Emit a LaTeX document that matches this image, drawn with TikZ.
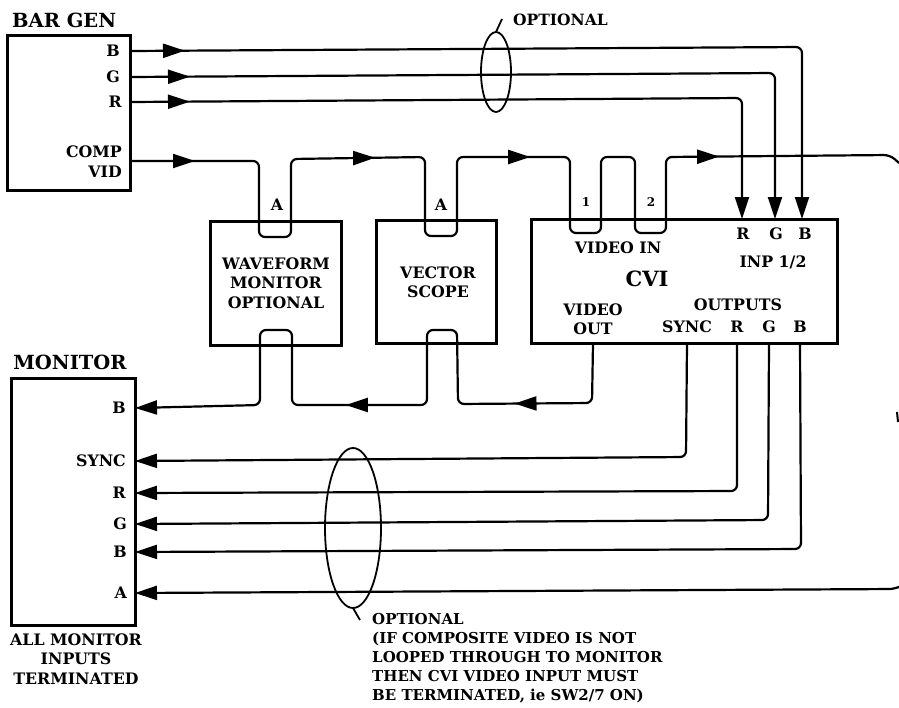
\documentclass[tikz,border=0pt]{standalone}
\usepackage{fontspec}
\setmainfont{DejaVu Serif}
\usetikzlibrary{arrows.meta,decorations.markings,shapes.geometric}
\tikzset{
	bigtip/.tip={Triangle[length=22pt,width=14pt]},
	tipat/.style={postaction={decorate},decoration={markings,mark=at position #1 with {\arrow{bigtip}}}},
}
\newcommand{\lblfont}{\fontsize{15.8}{19.5}\selectfont\bfseries}
\begin{document}
\begin{tikzpicture}[
		x=1pt, y=-1pt,
		unit/.style={rectangle, draw, line width=3pt, outer sep=0pt, inner sep=0pt},
		wire/.style={line width=2.2pt, rounded corners=6pt},
		loop/.style={ellipse, draw, line width=1.8pt, inner sep=0pt, outer sep=0pt},
		lbl/.style={inner sep=0pt, align=center, font=\lblfont},
		head/.style={inner sep=0pt, font=\fontsize{19.5}{22}\selectfont\bfseries},
	]
	\useasboundingbox (0,0) rectangle (899,707);

	% units
	\node[unit, minimum width=123pt, minimum height=155pt] (bargen)  at (68.5,112.5) {};
	\node[unit, minimum width=131pt, minimum height=124pt] (wave)    at (275.5,283)  {};
	\node[unit, minimum width=120pt, minimum height=123pt] (vector)  at (436,281.5)  {};
	\node[unit, minimum width=306pt, minimum height=124pt] (cvi)     at (684,281)    {};
	\node[unit, minimum width=124pt, minimum height=247pt] (monitor) at (73,501.5)   {};

	% headings
	\node[head, anchor=west] (bartxt) at (12,20)  {BAR GEN};
	\node[head] (montxt) at (70,362) {MONITOR};

	% bar gen pins
	\node[lbl, anchor=east] (bgb) at (120,51)  {B};
	\node[lbl, anchor=east] (bgg) at (120,77)  {G};
	\node[lbl, anchor=east] (bgr) at (122,102) {R};
	\node[lbl, anchor=east] (bgc) at (122,152) {COMP};
	\node[lbl, anchor=east] (bgv) at (122,172) {VID};
	\coordinate (bgcout) at (bargen.east |- 0,161);

	% box texts
	\node[lbl] (wavetxt) at (276,283) {WAVEFORM\\MONITOR\\OPTIONAL};
	\node[lbl] (vectxt)  at (438,282) {VECTOR\\SCOPE};
	\node[lbl] (wavea)   at (277,205) {A};
	\node[lbl] (veca)    at (441,205) {A};
	\node[lbl, font=\fontsize{12}{14}\selectfont\bfseries] (cone) at (586,202) {1};
	\node[lbl, font=\fontsize{12}{14}\selectfont\bfseries] (ctwo) at (651,202) {2};
	\node[lbl] (vidin)  at (618,248) {VIDEO IN};
	\node[lbl, font=\fontsize{21}{24}\selectfont\bfseries] (cvitxt) at (647,279) {CVI};
	\node[lbl] (inr)    at (743,234) {R};
	\node[lbl] (ing)    at (776,234) {G};
	\node[lbl] (inb)    at (805,234) {B};
	\node[lbl] (inp)    at (773,262) {INP 1/2};
	\node[lbl] (vidout) at (593,319) {VIDEO\\OUT};
	\node[lbl] (outs)   at (738,305) {OUTPUTS};
	\node[lbl] (osync)  at (687,327) {SYNC};
	\node[lbl] (outr)   at (737,327) {R};
	\node[lbl] (outg)   at (769,327) {G};
	\node[lbl] (outb)   at (800,327) {B};

	% monitor pins
	\node[lbl, anchor=east] (mb)  at (126,408) {B};
	\node[lbl, anchor=east] (ms)  at (126,461) {SYNC};
	\node[lbl, anchor=east] (mr)  at (126,493) {R};
	\node[lbl, anchor=east] (mg)  at (127,524) {G};
	\node[lbl, anchor=east] (mb2) at (127,552) {B};
	\node[lbl, anchor=east] (ma)  at (127,593) {A};
	\node[lbl] (montail) at (76,659) {ALL MONITOR\\INPUTS\\TERMINATED};

	% R, G, B into the cvi
	\draw[wire, tipat=55pt, -{bigtip}] (bargen.east |- bgb) -- (802,47) -- (cvi.north -| 802,0);
	\draw[wire, tipat=60pt, -{bigtip}] (bargen.east |- bgg) -- (775,73) -- (cvi.north -| 775,0);
	\draw[wire, tipat=60pt, -{bigtip}] (bargen.east |- bgr) -- (742,98) -- (cvi.north -| 742,0);

	% composite loop through
	\coordinate (waveu) at (275,237);
	\coordinate (vecu)  at (441,236);
	\coordinate (cviu)  at (585,233);
	\coordinate (cvit)  at (650,233);
	\draw[wire, tipat=65pt] (bgcout) -- (259,161) -- (259,237) -- (waveu);
	\draw[wire, tipat=173pt] (waveu) -- (291,237) -- (291,159) -- (425,157) -- (425,236) -- (vecu);
	\draw[wire, tipat=163pt] (vecu) -- (457,236) -- (457,157) -- (570,157) -- (570,233) -- (cviu);
	\draw[wire] (cviu) -- (601,233) -- (601,157) -- (635,157) -- (635,233) -- (cvit);
	\draw[wire, tipat=140pt] (cvit) -- (666,233) -- (666,157) -- (890,155) -- (899,163);

	% video out back to the monitor
	\coordinate (vecd)  at (442,330);
	\coordinate (waved) at (276,330);
	\draw[wire, tipat=135pt] (cvi.south -| vidout) -- (592,403) -- (458,404) -- (457,330) -- (vecd);
	\draw[wire, tipat=166pt] (vecd) -- (427,330) -- (427,405) -- (292,405) -- (292,330) -- (waved);
	\draw[wire, -{bigtip}] (waved) -- (260,330) -- (260,405) -- (monitor.east |- mb);

	% outputs to the monitor
	\draw[wire, -{bigtip}] (cvi.south -| osync) -- (686,457) -- (monitor.east |- ms);
	\draw[wire, -{bigtip}] (cvi.south -| outr)  -- (737,491) -- (monitor.east |- mr);
	\draw[wire, -{bigtip}] (cvi.south -| outg)  -- (768,520) -- (monitor.east |- mg);
	\draw[wire, -{bigtip}] (cvi.south -| 800,0) -- (801,549) -- (monitor.east |- mb2);

	% monitor A from the right edge
	\draw[wire, -{bigtip}] (899,587) -- (895,589) -- (monitor.east |- ma);
	\draw[line width=2pt] (897,412) -- (898,422);

	% optional loops
	\node[loop, minimum width=30pt, minimum height=80pt] (looptop) at (496,72)  {};
	\node[loop, minimum width=56pt, minimum height=160pt] (loopbot) at (353,528) {};
	\coordinate (ticktop) at (502,19);
	\coordinate (tickbot) at (360,620);
	\draw[line width=1.8pt] (looptop.north) -- (ticktop);
	\draw[line width=1.8pt] (loopbot.south) -- (tickbot);
	\node[lbl, anchor=west, font=\fontsize{15.5}{17}\selectfont\bfseries] (opttop) at (513,20) {OPTIONAL};
	\node[lbl, anchor=north west, align=left, font=\fontsize{15}{19}\selectfont\bfseries] (optbot) at (372,613)
		{OPTIONAL\\(IF COMPOSITE VIDEO IS NOT\\LOOPED THROUGH TO MONITOR\\THEN CVI VIDEO INPUT MUST\\BE TERMINATED, ie SW2/7 ON)};
\end{tikzpicture}
\end{document}
